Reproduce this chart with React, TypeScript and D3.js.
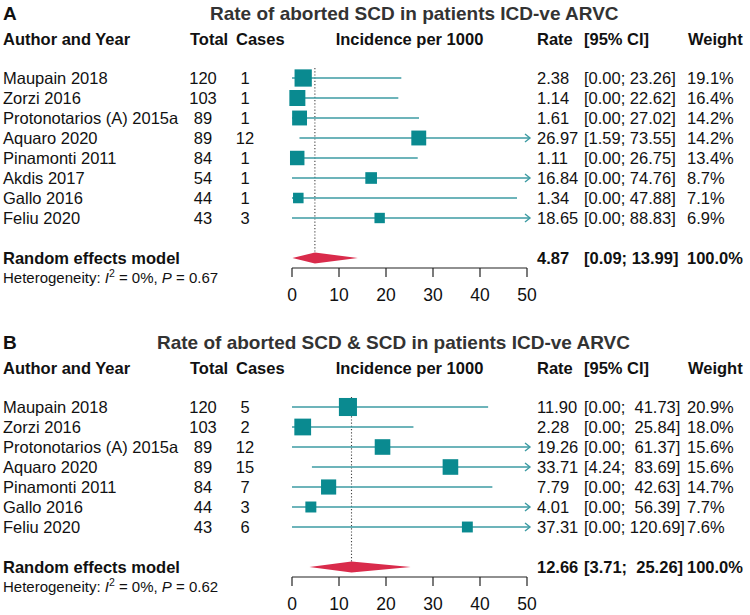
import React from "react";
import * as d3 from "d3";

// ---------- Panel A data ----------
const studiesA = ["Maupain 2018", "Zorzi 2016", "Protonotarios (A) 2015a", "Aquaro 2020", "Pinamonti 2011", "Akdis 2017", "Gallo 2016", "Feliu 2020"];
const totalA = [120, 103, 89, 89, 84, 54, 44, 43];
const casesA = [1, 1, 1, 12, 1, 1, 1, 3];
const rateA = [2.38, 1.14, 1.61, 26.97, 1.11, 16.84, 1.34, 18.65];
const lowerA = [0.0, 0.0, 0.0, 1.59, 0.0, 0.0, 0.0, 0.0];
const upperA = [23.26, 22.62, 27.02, 73.55, 26.75, 74.76, 47.88, 88.83];
const weightA = [19.1, 16.4, 14.2, 14.2, 13.4, 8.7, 7.1, 6.9];
const summaryA = [4.87, 0.09, 13.99];
const pA = "0.67";

// ---------- Panel B data ----------
const studiesB = ["Maupain 2018", "Zorzi 2016", "Protonotarios (A) 2015a", "Aquaro 2020", "Pinamonti 2011", "Gallo 2016", "Feliu 2020"];
const totalB = [120, 103, 89, 89, 84, 44, 43];
const casesB = [5, 2, 12, 15, 7, 3, 6];
const rateB = [11.9, 2.28, 19.26, 33.71, 7.79, 4.01, 37.31];
const lowerB = [0.0, 0.0, 0.0, 4.24, 0.0, 0.0, 0.0];
const upperB = [41.73, 25.84, 61.37, 83.69, 42.63, 56.39, 120.69];
const weightB = [20.9, 18.0, 15.6, 15.6, 14.7, 7.7, 7.6];
const summaryB = [12.66, 3.71, 25.26];
const pB = "0.62";

const xDomain = [0, 50];
const tickValues = [0, 10, 20, 30, 40, 50];

const FONT = "'Liberation Sans', Arial, Helvetica, sans-serif";
const SQ = "#0a8a90";
const LN = "#3d9ba3";
const DIA = "#d92b4b";

type PanelProps = {
  y0: number;
  label: string;
  title: string;
  titleX: number;
  studies: string[];
  totals: number[];
  cases: number[];
  rates: number[];
  lowers: number[];
  uppers: number[];
  weights: number[];
  summary: number[];
  pval: string;
  padUpper: number;
};

function Panel(p: PanelProps) {
  const x = d3.scaleLinear().domain(xDomain).range([292, 527]);
  const n = p.studies.length;
  const rowY = d3.scaleLinear().domain([0, 1]).range([p.y0 + 78, p.y0 + 98]);
  const yDia = rowY(n - 1) + 40;
  const yAxis = yDia + 10;
  const fmtCI = (lo: number, hi: number) =>
    `[${lo.toFixed(2)}; ${hi.toFixed(2).padStart(p.padUpper, " ")}]`;
  const fs = 16.5;
  const xMax = x(xDomain[1]);
  return (
    <g fontFamily={FONT}>
      <text x={3} y={p.y0 + 20} fontSize={19} fontWeight="bold" fill="#111">{p.label}</text>
      <text x={p.titleX} y={p.y0 + 20} fontSize={19} fontWeight="bold" fill="#333">{p.title}</text>
      {/* headers */}
      <g fontSize={fs} fontWeight="bold" fill="#111">
        <text x={3} y={p.y0 + 45}>Author and Year</text>
        <text x={190} y={p.y0 + 45}>Total</text>
        <text x={236} y={p.y0 + 45}>Cases</text>
        <text x={(x(0) + xMax) / 2} y={p.y0 + 45} textAnchor="middle">Incidence per 1000</text>
        <text x={537} y={p.y0 + 45}>Rate</text>
        <text x={584} y={p.y0 + 45}>[95% CI]</text>
        <text x={688} y={p.y0 + 45}>Weight</text>
      </g>
      {/* dotted summary line */}
      <line x1={x(p.summary[0])} x2={x(p.summary[0])} y1={rowY(0) - 10} y2={yDia - 5}
        stroke="#444" strokeWidth={1.1} strokeDasharray="1.2 2" />
      {/* study rows */}
      {p.studies.map((s, i) => {
        const y = rowY(i);
        const over = p.uppers[i] > xDomain[1];
        const x1 = x(Math.max(p.lowers[i], xDomain[0]));
        const x2 = over ? xMax + 3 : x(p.uppers[i]);
        const side = 3.95 * Math.sqrt(p.weights[i]);
        const cx = x(p.rates[i]);
        return (
          <g key={s}>
            <text x={3} y={y + 6} fontSize={fs} fill="#111">{s}</text>
            <text x={203} y={y + 6} fontSize={fs} fill="#111" textAnchor="middle">{p.totals[i]}</text>
            <text x={245} y={y + 6} fontSize={fs} fill="#111" textAnchor="middle">{p.cases[i]}</text>
            <line x1={x1} x2={x2} y1={y} y2={y} stroke={LN} strokeWidth={1.5} />
            {over && (
              <path d={`M${x2 - 5},${y - 4} L${x2},${y} L${x2 - 5},${y + 4}`} fill="none" stroke={LN} strokeWidth={1.4} />
            )}
            <rect x={cx - side / 2} y={y - side / 2} width={side} height={side} fill={SQ} />
            <text x={537} y={y + 6} fontSize={fs} fill="#111">{p.rates[i].toFixed(2)}</text>
            <text x={584} y={y + 6} fontSize={fs} fill="#111" style={{ whiteSpace: "pre" }}>{fmtCI(p.lowers[i], p.uppers[i])}</text>
            <text x={687} y={y + 6} fontSize={fs} fill="#111">{p.weights[i].toFixed(1) + "%"}</text>
          </g>
        );
      })}
      {/* summary */}
      <text x={3} y={yDia + 6} fontSize={fs} fontWeight="bold" fill="#111">Random effects model</text>
      <text x={3} y={yDia + 25} fontSize={15} fill="#111">
        Heterogeneity: <tspan fontStyle="italic">I</tspan>
        <tspan dy={-6} fontSize={10.5}>2</tspan>
        <tspan dy={6}> = 0%, </tspan>
        <tspan fontStyle="italic">P</tspan> = {p.pval}
      </text>
      <path
        d={`M${x(p.summary[1])},${yDia} L${x(p.summary[0])},${yDia - 5.5} L${x(p.summary[2])},${yDia} L${x(p.summary[0])},${yDia + 5.5} Z`}
        fill={DIA}
      />
      <g fontSize={fs} fontWeight="bold" fill="#111">
        <text x={537} y={yDia + 6}>{p.summary[0].toFixed(2)}</text>
        <text x={584} y={yDia + 6} style={{ whiteSpace: "pre" }}>{fmtCI(p.summary[1], p.summary[2])}</text>
        <text x={687} y={yDia + 6}>100.0%</text>
      </g>
      {/* axis */}
      <line x1={x(xDomain[0])} x2={xMax} y1={yAxis} y2={yAxis} stroke="#222" strokeWidth={1.2} />
      {tickValues.map((t) => (
        <g key={t}>
          <line x1={x(t)} x2={x(t)} y1={yAxis} y2={yAxis + 9} stroke="#222" strokeWidth={1.2} />
          <text x={x(t)} y={yAxis + 33} fontSize={17.5} textAnchor="middle" fill="#111">{t}</text>
        </g>
      ))}
    </g>
  );
}

export default function App() {
  return (
    <svg width={750} height={615} style={{ position: "absolute", left: 0, top: 0, background: "#fff" }}>
      <rect width={750} height={615} fill="#fff" />
      <Panel
        y0={0}
        label="A"
        title="Rate of aborted SCD in patients ICD-ve ARVC"
        titleX={210}
        studies={studiesA}
        totals={totalA}
        cases={casesA}
        rates={rateA}
        lowers={lowerA}
        uppers={upperA}
        weights={weightA}
        summary={summaryA}
        pval={pA}
        padUpper={5}
      />
      <Panel
        y0={329}
        label="B"
        title="Rate of aborted SCD & SCD in patients ICD-ve ARVC"
        titleX={157}
        studies={studiesB}
        totals={totalB}
        cases={casesB}
        rates={rateB}
        lowers={lowerB}
        uppers={upperB}
        weights={weightB}
        summary={summaryB}
        pval={pB}
        padUpper={6}
      />
    </svg>
  );
}
